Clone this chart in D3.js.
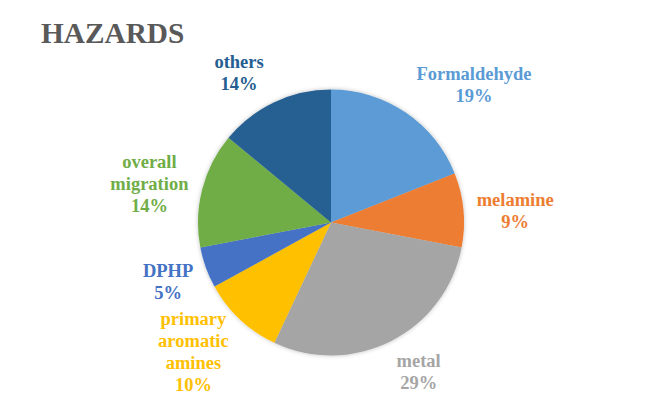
<!DOCTYPE html>
<meta charset="utf-8">
<style>
body { margin: 0; background: #fff; }
text { font-family: "Liberation Serif", "Times New Roman", serif; font-weight: bold; }
</style>
<body>
<script src="https://d3js.org/d3.v7.min.js"></script>
<script>

var width = 659;
var height = 395;

var categories = ['Formaldehyde', 'melamine', 'metal', 'primary aromatic amines', 'DPHP', 'overall migration', 'others'];
var values = [19, 9, 29, 10, 5, 14, 14];
var colors = ['#5B9BD5', '#ED7D31', '#A5A5A5', '#FFC000', '#4472C4', '#70AD47', '#255E91'];
// label lines (category name wrapped as in the original)
var labelLines = [
  ['Formaldehyde'],
  ['melamine'],
  ['metal'],
  ['primary', 'aromatic', 'amines'],
  ['DPHP'],
  ['overall', 'migration'],
  ['others']
];

var cx = 331, cy = 222.5, radius = 133;

var svg = d3.select('body')
  .append('svg')
  .attr('width', width)
  .attr('height', height);

var defs = svg.append('defs');
var shadow = defs.append('filter')
  .attr('id', 'shadow')
  .attr('x', '-20%').attr('y', '-20%')
  .attr('width', '140%').attr('height', '140%');
shadow.append('feDropShadow')
  .attr('dx', 0).attr('dy', 0)
  .attr('stdDeviation', 2)
  .attr('flood-color', '#000')
  .attr('flood-opacity', 0.25);

svg.append('text')
  .attr('x', 41)
  .attr('y', 43)
  .attr('font-size', 29.3)
  .attr('fill', '#595959')
  .text('HAZARDS');

var data = categories.map((c, i) => ({ name: c, value: values[i], color: colors[i], lines: labelLines[i] }));

var pie = d3.pie()
  .value(d => d.value)
  .sort(null);

var arc = d3.arc()
  .innerRadius(0)
  .outerRadius(radius);

var arcs = pie(data);

var g = svg.append('g')
  .attr('transform', 'translate(' + cx + ',' + cy + ')');

g.append('g')
  .attr('filter', 'url(#shadow)')
  .selectAll('path')
  .data(arcs)
  .enter()
  .append('path')
  .attr('d', arc)
  .attr('fill', d => d.data.color);

// labels sit outside the pie, nudged from the slice's mid angle
var labelArc = d3.arc().innerRadius(radius * 1.27).outerRadius(radius * 1.27);
var lineH = 22;
var tweak = {
  'Formaldehyde': [48, 3],
  'melamine': [16, 5],
  'metal': [11, 0],
  'primary aromatic amines': [-22, 7.5],
  'DPHP': [-4, 3],
  'overall migration': [-18, 4.5],
  'others': [-20, 4]
};

arcs.forEach(a => {
  var p = labelArc.centroid(a);
  var t = tweak[a.data.name];
  var lines = a.data.lines.concat([d3.format('.0%')(a.data.value / d3.sum(values))]);
  var top = p[1] + t[1] - (lines.length - 1) * lineH / 2 + 5;
  var txt = g.append('text')
    .attr('text-anchor', 'middle')
    .attr('font-size', 18.5)
    .attr('fill', a.data.color);
  lines.forEach((l, i) => {
    txt.append('tspan')
      .attr('x', p[0] + t[0])
      .attr('y', top + i * lineH)
      .text(l);
  });
});

</script>
</body>
</html>
